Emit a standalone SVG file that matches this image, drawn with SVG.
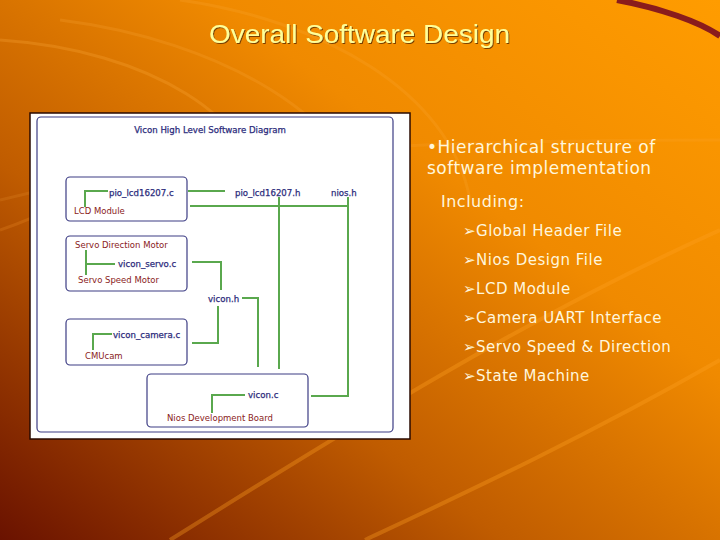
<svg xmlns="http://www.w3.org/2000/svg" width="720" height="540" viewBox="0 0 720 540">
<defs>
<linearGradient id="bg" x1="1" y1="0" x2="0" y2="1">
<stop offset="0" stop-color="#ff9c00"/>
<stop offset="0.35" stop-color="#f08a00"/>
<stop offset="0.65" stop-color="#c05c00"/>
<stop offset="1" stop-color="#6a1200"/>
</linearGradient>
<filter id="sh" x="-5%" y="-20%" width="110%" height="140%">
<feDropShadow dx="1" dy="1" stdDeviation="0.4" flood-color="#5a2a00" flood-opacity="0.8"/>
</filter>
<style>
.box{fill:#ffffff;stroke:#3c3c84;stroke-width:1.2}
.ln{fill:none;stroke:#5aa84e;stroke-width:2}
.blue{font-family:"DejaVu Sans",Verdana,sans-serif;font-size:8.6px;fill:#2c2c7c;stroke:#2c2c7c;stroke-width:0.25}
.red{font-family:"DejaVu Sans",Verdana,sans-serif;font-size:8.5px;fill:#8a2222}
.side{font-family:"DejaVu Sans",Verdana,sans-serif;fill:#fff6dc;letter-spacing:0.5px}
</style>
</defs>
<rect width="720" height="540" fill="url(#bg)"/>
<g fill="none">
<path d="M0 40 C150 50 260 120 260 200" stroke="#ffb040" stroke-opacity="0.25" stroke-width="3"/>
<path d="M60 20 C220 40 360 120 370 220" stroke="#ffb040" stroke-opacity="0.2" stroke-width="3"/>
<path d="M180 0 C320 20 450 90 470 200" stroke="#ffb040" stroke-opacity="0.18" stroke-width="3"/>
<path d="M0 230 C60 210 100 180 120 170" stroke="#ffa030" stroke-opacity="0.2" stroke-width="3"/>
<path d="M170 540 C330 440 520 320 720 230" stroke="#ffa020" stroke-opacity="0.35" stroke-width="4"/>
<path d="M365 540 C450 500 580 440 720 360" stroke="#ffa020" stroke-opacity="0.35" stroke-width="4"/>
<path d="M0 200 C200 150 400 140 720 140" stroke="#ffb040" stroke-opacity="0.15" stroke-width="3"/>
<path d="M617 0 C660 8 700 22 720 36" stroke="#8a1c1c" stroke-width="6"/>
</g>
<text x="209" y="43" textLength="301" lengthAdjust="spacingAndGlyphs" font-family="Liberation Sans,Arial,sans-serif" font-size="25" fill="#ffff99" filter="url(#sh)">Overall Software Design</text>
<rect x="30" y="113" width="380" height="326" fill="#ffffff" stroke="#2a0a00" stroke-width="1.5"/>
<rect x="37" y="117" width="356" height="315" rx="4" class="box"/>
<text x="210" y="133" text-anchor="middle" class="blue">Vicon High Level Software Diagram</text>
<g id="lcd">
<rect x="66" y="177" width="121" height="44" rx="4" class="box"/>
<text x="109" y="196" class="blue">pio_lcd16207.c</text>
<text x="74" y="214" class="red">LCD Module</text>
</g>
<g id="pio_lcd_h"><text x="235" y="196" class="blue">pio_lcd16207.h</text></g>
<g id="nios_h"><text x="331" y="196" class="blue">nios.h</text></g>
<g id="servo">
<rect x="66" y="236" width="121" height="55" rx="4" class="box"/>
<text x="75" y="248" class="red">Servo Direction Motor</text>
<text x="118" y="267" class="blue">vicon_servo.c</text>
<text x="78" y="283" class="red">Servo Speed Motor</text>
</g>
<g id="vicon_h"><text x="208" y="302" class="blue">vicon.h</text></g>
<g id="camera">
<rect x="66" y="319" width="121" height="46" rx="4" class="box"/>
<text x="113" y="338" class="blue">vicon_camera.c</text>
<text x="85" y="359" class="red">CMUcam</text>
</g>
<g id="nios">
<rect x="147" y="374" width="161" height="53" rx="4" class="box"/>
<text x="248" y="398" class="blue">vicon.c</text>
<text x="167" y="421" class="red">Nios Development Board</text>
</g>
<g id="connectors">
<polyline class="ln" points="108,191 85,191 85,207"/>
<polyline class="ln" points="188,191 225,191"/>
<polyline class="ln" points="190,206 348,206"/>
<polyline class="ln" points="279,197 279,369"/>
<polyline class="ln" points="348,197 348,396 311,396"/>
<polyline class="ln" points="86,250 86,275"/>
<polyline class="ln" points="86,264 115,264"/>
<polyline class="ln" points="192,262 221,262 221,290"/>
<polyline class="ln" points="242,298 258,298 258,367"/>
<polyline class="ln" points="218,306 218,343 192,343"/>
<polyline class="ln" points="112,334 93,334 93,350"/>
<polyline class="ln" points="245,395 212,395 212,413"/>
</g>
<g id="sidetext" class="side">
<text x="427" y="153" font-size="17">•Hierarchical structure of</text>
<text x="427" y="174" font-size="17">software implementation</text>
<text x="441" y="207" font-size="16">Including:</text>
<g font-size="15">
<text x="463" y="236">➢Global Header File</text>
<text x="463" y="265">➢Nios Design File</text>
<text x="463" y="294">➢LCD Module</text>
<text x="463" y="323">➢Camera UART Interface</text>
<text x="463" y="352">➢Servo Speed &amp; Direction</text>
<text x="463" y="381">➢State Machine</text>
</g>
</g>
</svg>
